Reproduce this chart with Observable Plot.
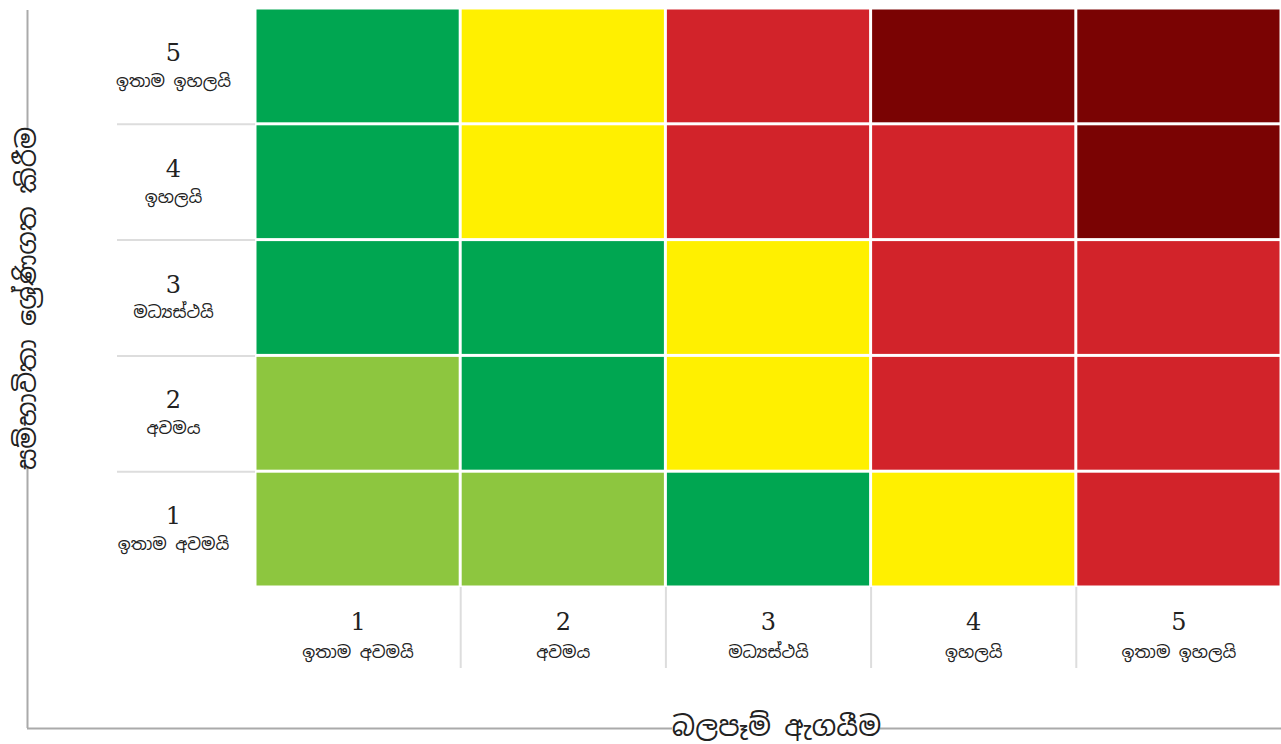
<!DOCTYPE html>
<html>
<head>
<meta charset="utf-8">
<script src="https://cdn.jsdelivr.net/npm/d3@7"></script>
<script src="https://cdn.jsdelivr.net/npm/@observablehq/plot@0.6"></script>
<style>
  html, body { margin: 0; padding: 0; background: #fff; }
  #chart { width: 1281px; height: 744px; }
</style>
</head>
<body>
<div id="chart"></div>
<script>
// ---- data ----
const levels = [1, 2, 3, 4, 5];
const levelLabels = ["ඉතාම අවමයි", "අවමය", "මධ්‍යස්ථයි", "ඉහලයි", "ඉතාම ඉහලයි"];
const xTitle = "බලපෑම් ඇගයීම";
const yTitle = "සම්භාවිතා ශ්‍රේණිගත කිරීම";
const riskCategories = ["VL", "L", "M", "H", "VH"];
const riskColors = ["#8dc63f", "#00a651", "#fff000", "#d2232a", "#7a0303"];
// rows: likelihood 1..5, columns: impact 1..5
const riskRow1 = ["VL", "VL", "L", "M", "H"];
const riskRow2 = ["VL", "L", "M", "H", "H"];
const riskRow3 = ["L", "L", "M", "H", "H"];
const riskRow4 = ["L", "M", "H", "H", "VH"];
const riskRow5 = ["L", "M", "H", "VH", "VH"];

const rows = [riskRow1, riskRow2, riskRow3, riskRow4, riskRow5];
const cells = [];
rows.forEach((r, i) => r.forEach((c, j) => cells.push({impact: levels[j], likelihood: levels[i], risk: c})));

// ---- layout ----
const W = 1281, H = 744;
const mL = 255, mR = 0, mT = 8, mB = 157;
const colW = (W - mL - mR) / 5, rowH = (H - mT - mB) / 5;
const px2x = p => 0.5 + (p - mL) / colW;
const py2y = p => 0.5 + (H - mB - p) / rowH;
const sinhala = "'Noto Sans Sinhala','Noto Serif Sinhala','Iskoola Pota','Nirmala UI',serif";
const numFont = "'DejaVu Serif','Liberation Serif',serif";

const lab = d => levelLabels[d - 1];
const axisStroke = {stroke: "#aaaaaa", strokeWidth: 2};

const chart = Plot.plot({
  width: W, height: H,
  marginLeft: mL, marginRight: mR, marginTop: mT, marginBottom: mB,
  x: {domain: [0.5, 5.5], axis: null},
  y: {domain: [0.5, 5.5], axis: null},
  color: {domain: riskCategories, range: riskColors},
  style: {background: "#fff"},
  marks: [
    // outer L-shaped axis lines (broken where the titles sit)
    Plot.ruleX([px2x(27)], {y1: py2y(10), y2: py2y(130), ...axisStroke}),
    Plot.ruleX([px2x(27)], {y1: py2y(466), y2: py2y(728), ...axisStroke}),
    Plot.ruleY([py2y(728)], {x1: px2x(27), x2: px2x(672), ...axisStroke}),
    Plot.ruleY([py2y(728)], {x1: px2x(880), x2: px2x(W), ...axisStroke}),
    // label separators
    Plot.ruleY([1.5, 2.5, 3.5, 4.5], {x1: px2x(117), x2: 0.5, stroke: "#dddddd", strokeWidth: 2}),
    Plot.ruleX([1.5, 2.5, 3.5, 4.5], {y1: 0.5, y2: py2y(668), stroke: "#dddddd", strokeWidth: 2}),
    // cells
    Plot.rect(cells, {
      x1: d => d.impact - 0.5, x2: d => d.impact + 0.5,
      y1: d => d.likelihood - 0.5, y2: d => d.likelihood + 0.5,
      fill: "risk", inset: 1.5
    }),
    // y labels
    Plot.text(levels, {y: d => d, frameAnchor: "left", dx: -82, dy: -13, text: d => String(d),
      fontSize: 24, fontFamily: numFont, fill: "#222", textAnchor: "middle"}),
    Plot.text(levels, {y: d => d, frameAnchor: "left", dx: -82, dy: 15, text: lab,
      fontSize: 17, fontFamily: sinhala, fill: "#222", textAnchor: "middle"}),
    // x labels
    Plot.text(levels, {x: d => d, frameAnchor: "bottom", dy: 42, text: d => String(d),
      fontSize: 24, fontFamily: numFont, fill: "#222", textAnchor: "middle"}),
    Plot.text(levels, {x: d => d, frameAnchor: "bottom", dy: 70, text: lab,
      fontSize: 17, fontFamily: sinhala, fill: "#222", textAnchor: "middle"}),
    // titles
    Plot.text([xTitle], {x: px2x(776), y: py2y(727), text: d => d, fontSize: 27, fontFamily: sinhala,
      fill: "#222", textAnchor: "middle"}),
    Plot.text([yTitle], {x: px2x(27), y: py2y(298), text: d => d, rotate: -90, fontSize: 26, fontFamily: sinhala,
      fill: "#222", textAnchor: "middle"})
  ]
});
document.getElementById("chart").appendChild(chart);
</script>
</body>
</html>
